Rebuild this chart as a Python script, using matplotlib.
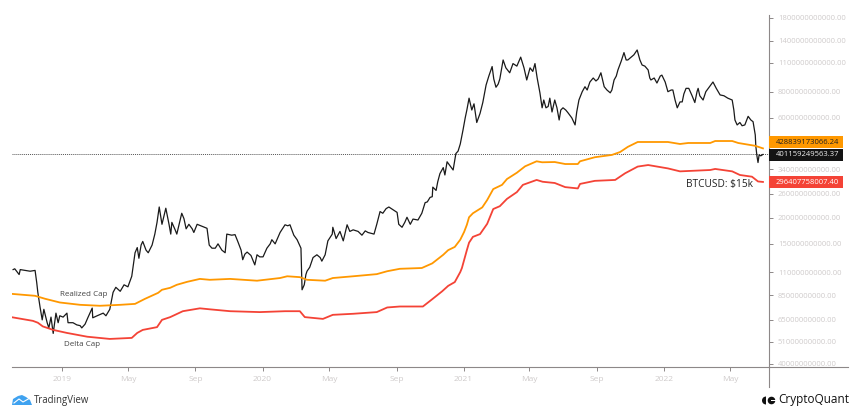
#!/usr/bin/env python3
"""Realized Cap / Delta Cap vs BTC market cap, TradingView style log chart."""
import matplotlib
matplotlib.use("Agg")
import matplotlib.dates as mdates
import matplotlib.pyplot as plt
import matplotlib.ticker as ticker
from matplotlib.lines import Line2D
from matplotlib.patches import Circle, Polygon, Rectangle, Wedge
import numpy as np
import pandas as pd

# days are counted from 2019-01-01, values in $bn
btc_days = [
    -89, -86, -78, -76, -67, -58, -49, -46, -44, -40, -36, -33, -27, -24, -20, -16, -11, -7, -4, 2,
    9, 11, 20, 27, 33, 36, 42, 47, 55, 56, 64, 75, 80, 87, 93, 98, 106, 113, 120, 127,
    133, 137, 140, 144, 147, 153, 157, 164, 169, 173, 177, 182, 186, 189, 195, 198, 200, 206, 209, 215,
    218, 222, 226, 231, 237, 240, 246, 255, 264, 268, 273, 279, 284, 291, 297, 300, 309, 315, 320, 326,
    329, 333, 337, 344, 351, 355, 360, 366, 373, 379, 382, 388, 397, 406, 411, 415, 422, 428, 435, 437,
    441, 444, 446, 451, 457, 464, 470, 473,
    479, 484, 492, 493, 499, 506, 512, 519, 524, 530, 539, 546, 552, 557, 568, 573, 579, 584, 590, 595,
    603, 610, 613, 619, 624, 628, 634, 639, 648, 655, 661, 665, 670, 674, 675, 681, 684, 688, 694, 697,
    701, 706, 712, 717, 721, 725, 730,
    734, 737, 741, 746, 750, 755, 761, 766, 772, 777, 783, 786, 790, 794, 797, 803, 808,
    815, 821, 828, 835, 841, 846, 852, 857, 861, 865, 870, 874, 877, 881, 885, 888, 892, 897, 901, 905,
    908, 912, 917, 921, 928, 934, 937, 941, 947, 952, 956, 961, 967, 972, 976, 981, 987, 992, 998, 1001,
    1005, 1009, 1012, 1018, 1023, 1027, 1030, 1036, 1041, 1047, 1052, 1056, 1061, 1067, 1070, 1072, 1078, 1083, 1089, 1092,
    1098, 1103, 1109, 1112, 1116, 1120, 1125, 1129, 1132, 1136, 1141, 1147, 1152, 1156, 1158, 1161, 1167, 1172, 1180, 1185,
    1191, 1198, 1205, 1212, 1220, 1223, 1225, 1229, 1234, 1238, 1243, 1249, 1254, 1258, 1262, 1263, 1265, 1267, 1269, 1272,
    1276,
]
btc_values = [
    113, 114, 107, 113, 112, 111, 112, 98, 88, 75, 65, 73, 63, 59.5, 67, 56, 70, 63, 68, 67,
    70, 63, 63, 61.5, 61, 59.5, 62, 66.5, 74, 66.5, 68, 70, 68, 73, 88, 93, 89, 95.6, 93.5, 105,
    136, 144, 128, 148, 154, 140, 136, 148, 167, 190, 225, 186, 206, 222, 185, 167, 190, 175, 167, 195,
    210, 198, 177, 186, 177, 170, 186, 182, 178, 148, 143, 143, 150, 140, 136, 167, 165, 166, 154, 140,
    126, 134, 137, 132, 119, 133, 130, 130, 143, 150, 157, 150, 170, 185, 183, 185, 165, 157, 143, 90.5,
    95.6, 107, 111, 116, 129, 133, 129, 124,
    133, 155, 167, 180, 159, 172, 155, 185, 172, 175, 172, 165, 173, 170, 167, 186, 214, 210, 221, 225,
    218, 212, 186, 180, 190, 201, 186, 197, 195, 210, 236, 238, 250, 252, 280, 270, 297, 325, 347, 320,
    370, 355, 338, 405, 416, 450, 525,
    600, 654, 745, 654, 700, 570, 630, 710, 861, 950, 1055, 920, 840, 870, 920, 1134, 1040,
    985, 1090, 1060, 1170, 1040, 910, 1040, 1000, 1090, 930, 790, 670, 730, 670, 680, 745, 640, 730, 670, 586,
    654, 670, 654, 635, 600, 555, 640, 730, 800, 845, 815, 890, 930, 900, 920, 985, 845, 815, 790, 815,
    910, 950, 1016, 1120, 1230, 1134, 1134, 1170, 1200, 1266, 1134, 1073, 1060, 1016, 930, 910, 930, 880, 950, 960,
    890, 800, 815, 815, 730, 670, 715, 715, 780, 830, 830, 765, 710, 800, 830, 765, 730, 800, 855, 890,
    830, 772, 765, 745, 730, 654, 586, 555, 570, 550, 555, 610, 586, 575, 497, 440, 395, 367, 399, 395,
    401.16,
]
realized_days = [
    -91, -49, -31, -4, 33, 69, 106, 133, 151, 175, 182, 197, 209, 228, 251, 269, 306, 355, 397, 410,
    433, 446, 479, 493, 530, 573, 592, 615, 655, 674, 694, 703, 715, 725, 732, 737, 741, 748, 765, 774,
    785, 801, 810, 828, 843, 864, 874, 897, 916, 939, 943, 970, 1001, 1016, 1030, 1048, 1067, 1103, 1125, 1140,
    1180, 1189, 1220, 1231, 1262, 1276,
]
realized_values = [
    86.5, 84.7, 82, 78.7, 76.7, 75.9, 76.7, 77.5, 81.9, 87.5, 90.5, 92.5, 95.6, 98.8, 102, 101, 102, 100, 103, 105,
    104, 101, 100, 103, 105, 107.5, 111, 114, 115, 121, 133, 140, 145, 157, 171, 185, 201, 210, 224, 243,
    274, 287, 306, 328, 352, 372, 368, 369, 361, 361, 372, 389, 399, 412, 436, 460, 460, 460, 450, 455,
    455, 465, 465, 455, 441, 428.84,
]
delta_days = [
    -91, -53, -44, -35, -16, 9, 46, 87, 127, 137, 147, 173, 182, 197, 220, 251, 269, 306, 360, 406,
    433, 442, 475, 493, 530, 573, 592, 615, 657, 675, 692, 703, 715, 725, 728, 737, 741, 748, 761, 774,
    785, 797, 810, 828, 839, 864, 875, 897, 916, 939, 943, 970, 1007, 1025, 1048, 1067, 1103, 1125, 1180, 1189,
    1220, 1234, 1256, 1267, 1276,
]
delta_values = [
    66.9, 64.3, 63, 60.5, 58.2, 56.3, 54, 52.7, 53.3, 56.3, 58.2, 60, 65, 67, 71.5, 73.8, 73, 71.5, 70.8, 71.5,
    71.5, 67, 65.7, 68.7, 69.5, 70.8, 74.5, 75.3, 75.3, 82, 89, 94.5, 98.5, 110, 115, 140, 152, 162, 167, 187,
    220, 227, 246, 265, 287, 303, 297, 293, 280, 276, 290, 300, 303, 326, 351, 357, 344, 333, 338, 342,
    333, 320, 314, 298, 296.41,
]
y_ticks = [1800, 1400, 1100, 800, 600, 340, 260, 200, 150, 110, 85, 65, 51, 40]
x_tick_dates = ["2019-01-01", "2019-05-01", "2019-09-01", "2020-01-01", "2020-05-01", "2020-09-01",
                "2021-01-01", "2021-05-01", "2021-09-01", "2022-01-01", "2022-05-01"]
x_tick_labels = ["2019", "May", "Sep", "2020", "May", "Sep", "2021", "May", "Sep", "2022", "May"]
last_realized = 428839173066.24
last_btc = 401159249563.37
last_delta = 296407758007.40

W, H = 864, 420
GREY = "#cfcbcb"
AXIS = "#8d8888"

plt.rcParams["font.family"] = ["Open Sans", "DejaVu Sans"]


def to_dates(days):
    return pd.Timestamp("2019-01-01") + pd.to_timedelta(days, unit="D")


fig = plt.figure(figsize=(W / 100, H / 100), dpi=100, facecolor="white")
ax = fig.add_axes([12 / W, 1 - 367 / H, (769 - 12) / W, (367 - 15) / H])

ax.set_yscale("log")
ax.set_ylim(38.7e9, 1860e9)
ax.set_xlim(to_dates([-91])[0], to_dates([1287])[0])

ax.axhline(last_btc, color="#555555", linewidth=0.7, linestyle=(0, (1, 1)), zorder=1)
ax.plot(to_dates(btc_days), np.array(btc_values) * 1e9, color="#1a1a1a", linewidth=0.9, zorder=3)
ax.plot(to_dates(realized_days), np.array(realized_values) * 1e9, color="#ff9800", linewidth=1.3, zorder=4)
ax.plot(to_dates(delta_days), np.array(delta_values) * 1e9, color="#f44336", linewidth=1.3, zorder=4)

# axes
for name in ("top", "left"):
    ax.spines[name].set_visible(False)
ax.spines["right"].set_color(AXIS)
ax.spines["bottom"].set_color(AXIS)
ax.yaxis.tick_right()
ax.yaxis.set_major_locator(ticker.FixedLocator([v * 1e9 for v in y_ticks]))
ax.yaxis.set_minor_locator(ticker.NullLocator())
ax.yaxis.set_major_formatter(ticker.FuncFormatter(lambda v, _: f"{v:.2f}"))
ax.set_xticks(mdates.date2num(pd.to_datetime(x_tick_dates)))
ax.set_xticklabels(x_tick_labels)
ax.xaxis.set_minor_locator(ticker.NullLocator())
ax.tick_params(axis="y", length=3, width=0.7, color=AXIS, labelcolor=GREY, labelsize=5.5, pad=3.5)
ax.tick_params(axis="x", length=3, width=0.7, color=AXIS, labelcolor=GREY, labelsize=6, pad=3.5)

# annotations
ax.text(to_dates([40])[0], 85.6e9, "Realized Cap", fontsize=5.8, color="#444444", ha="center", va="center")
ax.text(to_dates([36])[0], 49.4e9, "Delta Cap", fontsize=5.8, color="#444444", ha="center", va="center")
ax.text(to_dates([1136])[0], 287e9, "BTCUSD: $15k", fontsize=7.3, color="#222222", ha="left", va="center")

# overlay in pixel units for the price tags, long axis lines and logos
ov = fig.add_axes([0, 0, 1, 1], facecolor="none")
ov.set_xlim(0, W)
ov.set_ylim(H, 0)
ov.axis("off")

ov.add_line(Line2D([769, 769], [367, 387], color=AXIS, linewidth=0.8))
ov.add_line(Line2D([769, 848], [367, 367], color=AXIS, linewidth=0.8))

tags = [
    (136, f"{last_realized:.2f}", "#ff9800", "#222222"),
    (149, f"{last_btc:.2f}", "#131313", "#eeeeee"),
    (176, f"{last_delta:.2f}", "#f44336", "#ffffff"),
]
for top, label, face, ink in tags:
    ov.add_patch(Rectangle((769, top), 74, 12, facecolor=face, edgecolor="none", zorder=5))
    ov.text(776, top + 6, label, fontsize=5.5, color=ink, ha="left", va="center", zorder=6)

# TradingView logo
ov.add_patch(Polygon([(12, 405), (13, 399), (18, 396), (22, 395), (26, 397), (30, 400), (32, 405)],
                     closed=True, facecolor="#3fa2f0", edgecolor="none"))
ov.add_line(Line2D([14, 19, 23, 30], [403, 399, 402, 398], color="white", linewidth=0.8))
ov.text(34, 400, "TradingView", fontsize=6.9, color="#333333", ha="left", va="center")

# CryptoQuant logo
ov.add_patch(Wedge((766, 400.5), 4, 90, 270, facecolor="#111111", edgecolor="none"))
ov.add_patch(Circle((771.5, 400.5), 3.8, facecolor="#111111", edgecolor="none"))
ov.add_patch(Rectangle((771, 399.5), 5, 1.2, facecolor="white", edgecolor="none"))
ov.text(778, 400, "CryptoQuant", fontsize=8.5, color="#111111", ha="left", va="center")

fig.savefig("out.png", dpi=100, facecolor="white")
plt.close(fig)
